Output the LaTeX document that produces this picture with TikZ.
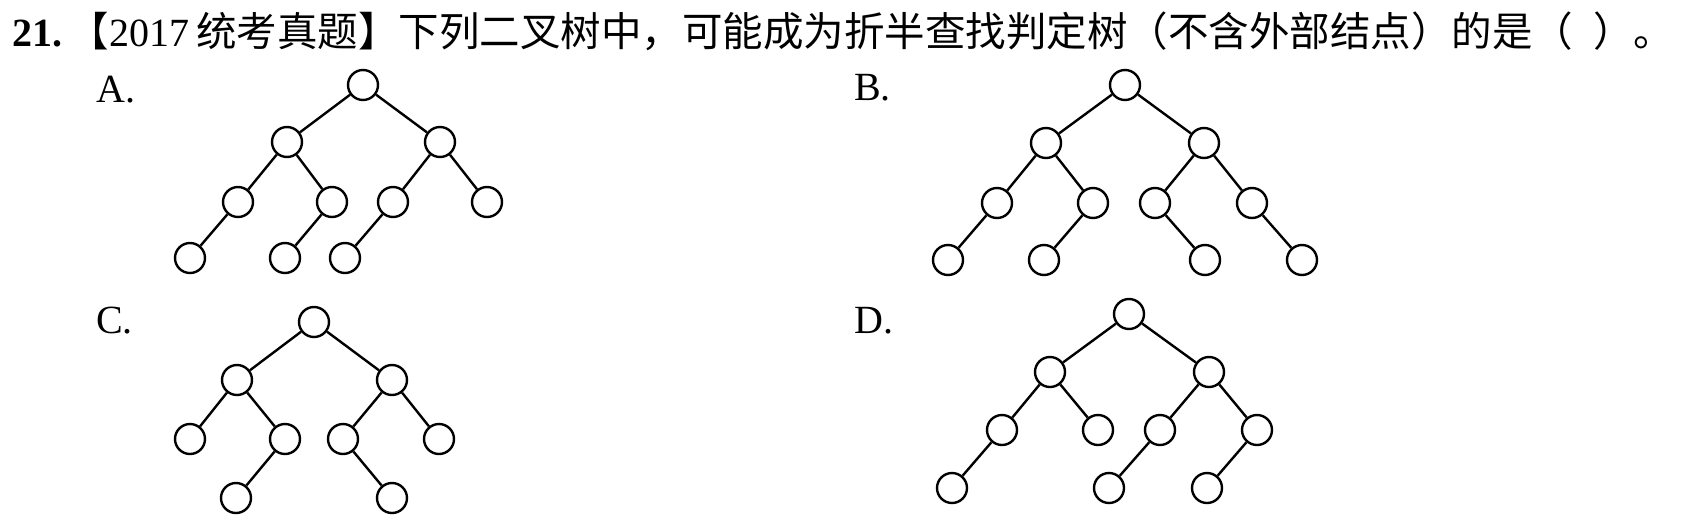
\documentclass[tikz,border=0pt]{standalone}
\usepackage{fontspec}
\setmainfont{Liberation Serif}
\newfontfamily\cjk{Noto Sans CJK SC}
\usepackage{tikz}

\begin{document}
\begin{tikzpicture}[x=1pt,y=-1pt,
	nd/.style={circle,draw,line width=2.4pt,minimum size=30pt,inner sep=0pt},
	every path/.style={line width=2.4pt},
	lbl/.style={anchor=base west,inner sep=0pt,font=\fontsize{40}{44}\selectfont}]
	\useasboundingbox (0,0) rectangle (1690,523);
	\node[anchor=base west,inner sep=0pt,font=\fontsize{40}{44}\selectfont] (title) at (11,46)
		{\textbf{21.}\,{\cjk\fontsize{40.5}{44}\selectfont 【}2017\,{\cjk\fontsize{40.5}{44}\selectfont 统考真题】下列二叉树中，可能成为折半查找判定树（不含外部结点）的是（\hspace{0.5em}）。}};
	\node[lbl] (la) at (95,102) {A.};
	\node[lbl] (lb) at (853,100) {B.};
	\node[lbl] (lc) at (95,333) {C.};
	\node[lbl] (ld) at (853,333) {D.};
	
	\node[nd] (a) at (363,85) {};
	\node[nd] (al) at (287,142) {};
	\node[nd] (ar) at (440,142) {};
	\node[nd] (all) at (238,202) {};
	\node[nd] (alr) at (332,202) {};
	\node[nd] (arl) at (393,202) {};
	\node[nd] (arr) at (487,202) {};
	\node[nd] (alll) at (190,258) {};
	\node[nd] (alrl) at (285,258) {};
	\node[nd] (arll) at (345,258) {};
	\draw (a)--(al) (a)--(ar) (al)--(all) (al)--(alr) (ar)--(arl) (ar)--(arr)
		(all)--(alll) (alr)--(alrl) (arl)--(arll);
	
	\node[nd] (b) at (1125,85) {};
	\node[nd] (bl) at (1046,143) {};
	\node[nd] (br) at (1204,143) {};
	\node[nd] (bll) at (997,203) {};
	\node[nd] (blr) at (1093,203) {};
	\node[nd] (brl) at (1155,203) {};
	\node[nd] (brr) at (1252,203) {};
	\node[nd] (blll) at (948,260) {};
	\node[nd] (blrl) at (1044,260) {};
	\node[nd] (brlr) at (1205,260) {};
	\node[nd] (brrr) at (1302,260) {};
	\draw (b)--(bl) (b)--(br) (bl)--(bll) (bl)--(blr) (br)--(brl) (br)--(brr)
		(bll)--(blll) (blr)--(blrl) (brl)--(brlr) (brr)--(brrr);
	
	\node[nd] (c) at (314,322) {};
	\node[nd] (cl) at (237,380) {};
	\node[nd] (cr) at (392,380) {};
	\node[nd] (cll) at (190,439) {};
	\node[nd] (clr) at (285,439) {};
	\node[nd] (crl) at (343,439) {};
	\node[nd] (crr) at (439,439) {};
	\node[nd] (clrl) at (236,498) {};
	\node[nd] (crlr) at (392,498) {};
	\draw (c)--(cl) (c)--(cr) (cl)--(cll) (cl)--(clr) (cr)--(crl) (cr)--(crr)
		(clr)--(clrl) (crl)--(crlr);
	
	\node[nd] (d) at (1129,314) {};
	\node[nd] (dl) at (1050,372) {};
	\node[nd] (dr) at (1209,372) {};
	\node[nd] (dll) at (1002,430) {};
	\node[nd] (dlr) at (1098,430) {};
	\node[nd] (drl) at (1160,430) {};
	\node[nd] (drr) at (1257,430) {};
	\node[nd] (dlll) at (952,488) {};
	\node[nd] (drll) at (1109,488) {};
	\node[nd] (drrl) at (1207,488) {};
	\draw (d)--(dl) (d)--(dr) (dl)--(dll) (dl)--(dlr) (dr)--(drl) (dr)--(drr)
		(dll)--(dlll) (drl)--(drll) (drr)--(drrl);
\end{tikzpicture}
\end{document}
